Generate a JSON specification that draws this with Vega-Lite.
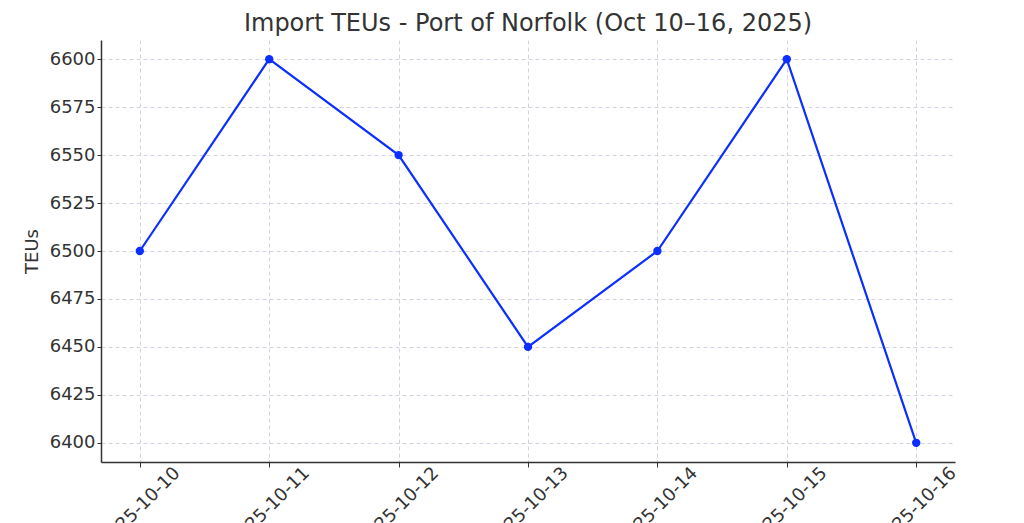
{
  "$schema": "https://vega.github.io/schema/vega-lite/v6.json",
  "width": 854,
  "height": 422,
  "autosize": {"type": "none"},
  "padding": {"left": 101, "top": 40, "right": 69, "bottom": 61},
  "background": "white",
  "config": {
    "view": {"stroke": null},
    "font": "DejaVu Sans"
  },
  "title": {
    "text": "Import TEUs - Port of Norfolk (Oct 10–16, 2025)",
    "font": "DejaVu Sans",
    "fontSize": 24,
    "fontWeight": "normal",
    "color": "#333333",
    "anchor": "middle",
    "baseline": "alphabetic",
    "offset": 10,
    "dy": 25
  },
  "data": {
    "values": [
      {"date": "2025-10-10", "teus": 6500},
      {"date": "2025-10-11", "teus": 6600},
      {"date": "2025-10-12", "teus": 6550},
      {"date": "2025-10-13", "teus": 6450},
      {"date": "2025-10-14", "teus": 6500},
      {"date": "2025-10-15", "teus": 6600},
      {"date": "2025-10-16", "teus": 6400}
    ]
  },
  "encoding": {
    "x": {
      "field": "date",
      "type": "ordinal",
      "scale": {"type": "point", "padding": 0.3},
      "axis": {
        "title": null,
        "labelAngle": -45,
        "labelAlign": "center",
        "labelBaseline": "middle",
        "labelPadding": 40,
        "labelFont": "DejaVu Sans",
        "labelFontSize": 18,
        "labelColor": "#333333",
        "tickSize": 5,
        "tickColor": "#333333",
        "domainColor": "#333333",
        "domainWidth": 1.5,
        "grid": true,
        "gridColor": "#c8c8d8",
        "gridDash": [4, 3],
        "gridWidth": 0.8
      }
    },
    "y": {
      "field": "teus",
      "type": "quantitative",
      "scale": {"domain": [6390, 6610], "nice": false, "zero": false},
      "axis": {
        "title": "TEUs",
        "titleFont": "DejaVu Sans",
        "titleFontSize": 18,
        "titleFontWeight": "normal",
        "titleColor": "#333333",
        "titlePadding": 8,
        "values": [6400, 6425, 6450, 6475, 6500, 6525, 6550, 6575, 6600],
        "format": "d",
        "labelFont": "DejaVu Sans",
        "labelFontSize": 18,
        "labelColor": "#333333",
        "labelPadding": 2,
        "tickSize": 4,
        "tickColor": "#333333",
        "domainColor": "#333333",
        "domainWidth": 1.5,
        "grid": true,
        "gridColor": "#c8c8d8",
        "gridDash": [4, 3],
        "gridWidth": 0.8
      }
    }
  },
  "layer": [
    {"mark": {"type": "line", "color": "#0a2fff", "strokeWidth": 2.2}},
    {"mark": {"type": "point", "filled": true, "color": "#0a2fff", "size": 70, "opacity": 1}}
  ]
}
